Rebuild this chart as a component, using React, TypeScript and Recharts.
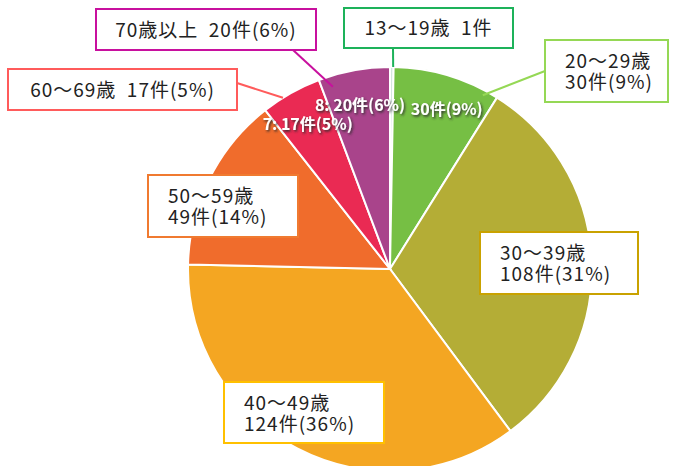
import { PieChart, Pie, Cell } from "recharts";

const ageGroups = ["13～19歳", "20～29歳", "30～39歳", "40～49歳", "50～59歳", "60～69歳", "70歳以上"];
const counts = [1, 30, 108, 124, 49, 17, 20];
const sliceColors = ["#d4e6df", "#76bf44", "#b4ad36", "#f4a622", "#f06c2c", "#ea2a53", "#a9448b"];
const boxColors = ["#1db25a", "#95d855", "#c9a200", "#ffc000", "#f07a30", "#ff5b5b", "#c8109e"];
// category numbers shown on the pie labels (the source numbers start at 2)
const categoryNumbers = [2, 3, 4, 5, 6, 7, 8];

const total = counts.reduce((a, b) => a + b, 0);
const pct = (v: number) => Math.round((v / total) * 100);

const data = ageGroups.map((name, i) => ({ name, value: counts[i] }));

// label boxes: position, one or two lines, leader line (box point -> angle/radius on pie, clockwise from top)
const boxes = [
  { x: 344, y: 8, w: 169, h: 40, twoLine: false, from: [393, 48], angle: 0.9, r: 202 },
  { x: 545, y: 40, w: 123, h: 62, twoLine: true, from: [545, 71], angle: 28.1, r: 197 },
  { x: 480, y: 232, w: 158, h: 62, twoLine: true },
  { x: 224, y: 382, w: 160, h: 61, twoLine: true },
  { x: 148, y: 175, w: 150, h: 62, twoLine: true },
  { x: 8, y: 69, w: 229, h: 41, twoLine: false, from: [237, 83], angle: -32, r: 202 },
  { x: 96, y: 9, w: 220, h: 41, twoLine: false, from: [293, 50], angle: -17.4, r: 191 },
];

// slices with a label drawn on the pie; prefix hidden where given
const innerShown = [false, true, false, false, false, true, true];
const innerPrefixHidden = [false, true, false, false, false, false, false];

const FONT = "'Noto Sans CJK JP', 'Noto Sans', sans-serif";
const RAD = Math.PI / 180;

function renderLabel(props: any) {
  const { cx, cy, midAngle, outerRadius, index } = props;
  const v = counts[index];
  const b = boxes[index];
  const countText = index === 0 ? `${v}件` : `${v}件(${pct(v)}%)`;
  const parts: any[] = [];

  if (index === 0) {
    parts.push(
      <defs key="defs">
        <filter id="txtShadow" x="-10%" y="-30%" width="130%" height="170%">
          <feDropShadow dx="1.3" dy="1.6" stdDeviation="1.1" floodColor="#2a2a2a" floodOpacity="0.95" />
        </filter>
      </defs>
    );
  }

  if (innerShown[index]) {
    const r = outerRadius * 0.83;
    const x = cx + r * Math.cos(-midAngle * RAD);
    const y = cy + r * Math.sin(-midAngle * RAD);
    parts.push(
      <text
        key="inner"
        x={x}
        y={y}
        textAnchor="middle"
        dominantBaseline="central"
        fill="#fff"
        fontSize={16}
        fontWeight="bold"
        fontFamily={FONT}
        filter="url(#txtShadow)"
      >
        <tspan fillOpacity={innerPrefixHidden[index] ? 0 : 1}>{`${categoryNumbers[index]}: `}</tspan>
        <tspan>{`${v}件(${pct(v)}%)`}</tspan>
      </text>
    );
  }

  if (b.from) {
    const a = b.angle * RAD;
    parts.push(
      <line
        key="leader"
        x1={b.from[0]}
        y1={b.from[1]}
        x2={cx + b.r * Math.sin(a)}
        y2={cy - b.r * Math.cos(a)}
        stroke={boxColors[index]}
        strokeWidth={2}
      />
    );
  }

  parts.push(
    <rect key="box" x={b.x} y={b.y} width={b.w} height={b.h} fill="#fff" stroke={boxColors[index]} strokeWidth={2} />
  );

  if (b.twoLine) {
    parts.push(
      <text key="t" fontFamily={FONT} fontSize={19} fill="#222" letterSpacing={1}>
        <tspan x={b.x + 20} y={b.y + 28}>{ageGroups[index]}</tspan>
        <tspan x={b.x + 20} y={b.y + 49}>{countText}</tspan>
      </text>
    );
  } else {
    parts.push(
      <text
        key="t"
        x={b.x + b.w / 2}
        y={b.y + b.h / 2 + 7}
        textAnchor="middle"
        fontFamily={FONT}
        fontSize={19}
        fill="#222"
        letterSpacing={1}
        style={{ whiteSpace: "pre" }}
      >
        {`${ageGroups[index]}  ${countText}`}
      </text>
    );
  }

  return <g key={`lbl-${index}`}>{parts}</g>;
}

export default function App() {
  return (
    <div style={{ position: "fixed", left: 0, top: 0, width: 674, height: 466, background: "#fff", overflow: "hidden" }}>
      <PieChart width={674} height={466} margin={{ top: 0, right: 0, bottom: 0, left: 0 }}>
        <Pie
          data={data}
          dataKey="value"
          nameKey="name"
          cx={390}
          cy={269}
          outerRadius={202}
          startAngle={90}
          endAngle={-270}
          stroke="#fff"
          strokeWidth={2}
          label={renderLabel}
          labelLine={false}
          isAnimationActive={false}
        >
          {data.map((d, i) => (
            <Cell key={d.name} fill={sliceColors[i]} />
          ))}
        </Pie>
      </PieChart>
    </div>
  );
}
